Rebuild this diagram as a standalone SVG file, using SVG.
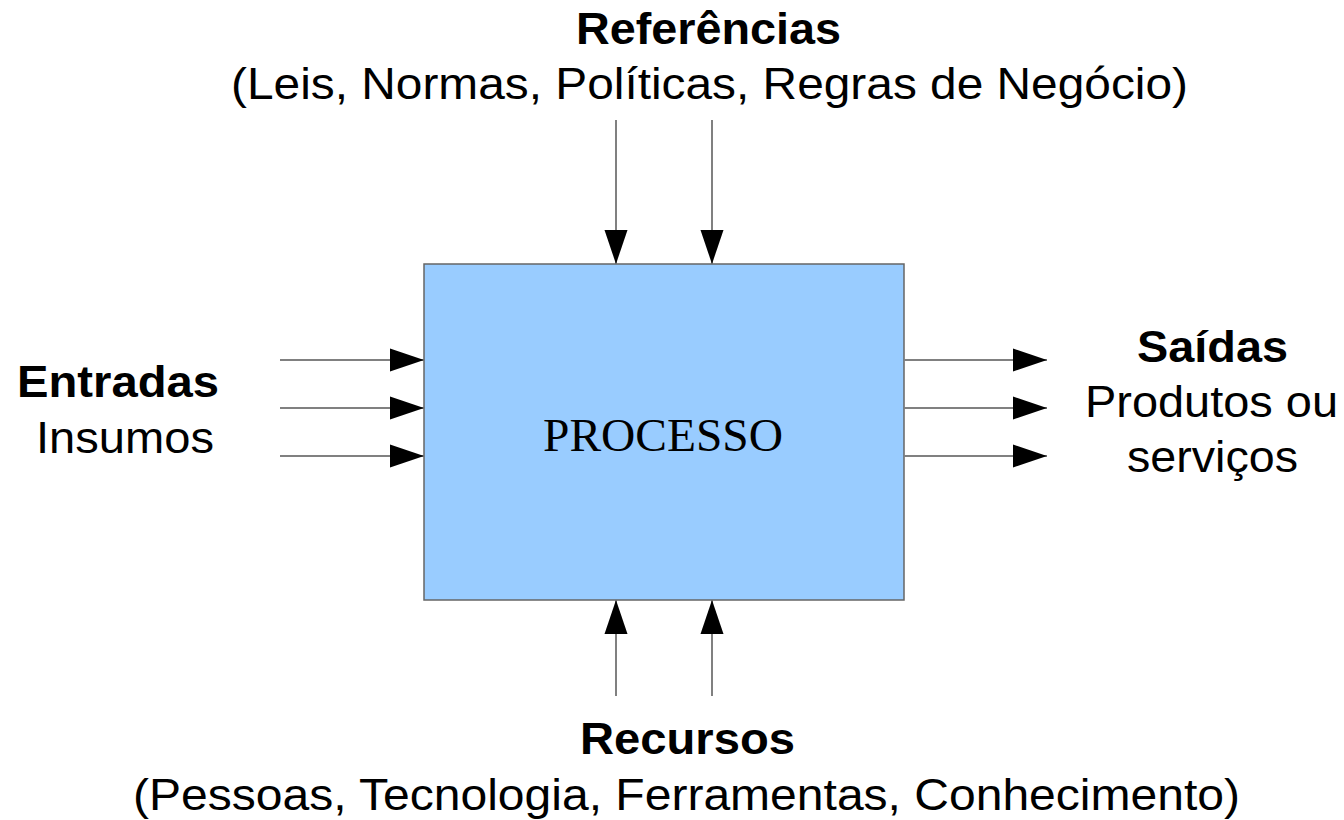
<svg xmlns="http://www.w3.org/2000/svg" width="1344" height="820" viewBox="0 0 1344 820">
<style>
.t{font-family:"Liberation Sans",Arial,sans-serif;font-size:44px;fill:#000;text-anchor:middle}
.b{font-weight:bold}
.p{font-family:"Liberation Serif","Times New Roman",serif;font-size:47px;fill:#000;text-anchor:middle}
.c{stroke:#808080;stroke-width:2;fill:none;marker-end:url(#ah)}
</style>
<defs>
<marker id="ah" markerUnits="userSpaceOnUse" markerWidth="34" markerHeight="24" refX="34" refY="11.5" orient="auto" viewBox="0 0 34 23">
<path d="M0,0 L34,11.5 L0,23 z" fill="#000"/>
</marker>
</defs>
<rect width="1344" height="820" fill="#fff"/>
<g id="processo">
<rect x="424" y="264" width="480" height="336" fill="#99ccff" stroke="#666" stroke-width="1.5"/>
<text class="p" x="663" y="451" textLength="240" lengthAdjust="spacingAndGlyphs">PROCESSO</text>
</g>
<g id="connectors">
<line class="c" x1="616" y1="120" x2="616" y2="264"/>
<line class="c" x1="712" y1="120" x2="712" y2="264"/>
<line class="c" x1="280" y1="360" x2="424" y2="360"/>
<line class="c" x1="280" y1="408" x2="424" y2="408"/>
<line class="c" x1="280" y1="456" x2="424" y2="456"/>
<line class="c" x1="904" y1="360" x2="1047" y2="360"/>
<line class="c" x1="904" y1="408" x2="1047" y2="408"/>
<line class="c" x1="904" y1="456" x2="1047" y2="456"/>
<line class="c" x1="616" y1="696" x2="616" y2="600"/>
<line class="c" x1="712" y1="696" x2="712" y2="600"/>
</g>
<g id="referencias">
<text class="t b" x="708.5" y="44" textLength="265" lengthAdjust="spacingAndGlyphs">Referências</text>
<text class="t" x="709.5" y="99" textLength="957" lengthAdjust="spacingAndGlyphs">(Leis, Normas, Políticas, Regras de Negócio)</text>
</g>
<g id="entradas">
<text class="t b" x="118" y="397" textLength="202" lengthAdjust="spacingAndGlyphs">Entradas</text>
<text class="t" x="125" y="453" textLength="178" lengthAdjust="spacingAndGlyphs">Insumos</text>
</g>
<g id="saidas">
<text class="t b" x="1212.5" y="362" textLength="151" lengthAdjust="spacingAndGlyphs">Saídas</text>
<text class="t" x="1211.5" y="417" textLength="253" lengthAdjust="spacingAndGlyphs">Produtos ou</text>
<text class="t" x="1212.5" y="472" textLength="171" lengthAdjust="spacingAndGlyphs">serviços</text>
</g>
<g id="recursos">
<text class="t b" x="687.5" y="754" textLength="215" lengthAdjust="spacingAndGlyphs">Recursos</text>
<text class="t" x="686.5" y="810" textLength="1107" lengthAdjust="spacingAndGlyphs">(Pessoas, Tecnologia, Ferramentas, Conhecimento)</text>
</g>
</svg>
